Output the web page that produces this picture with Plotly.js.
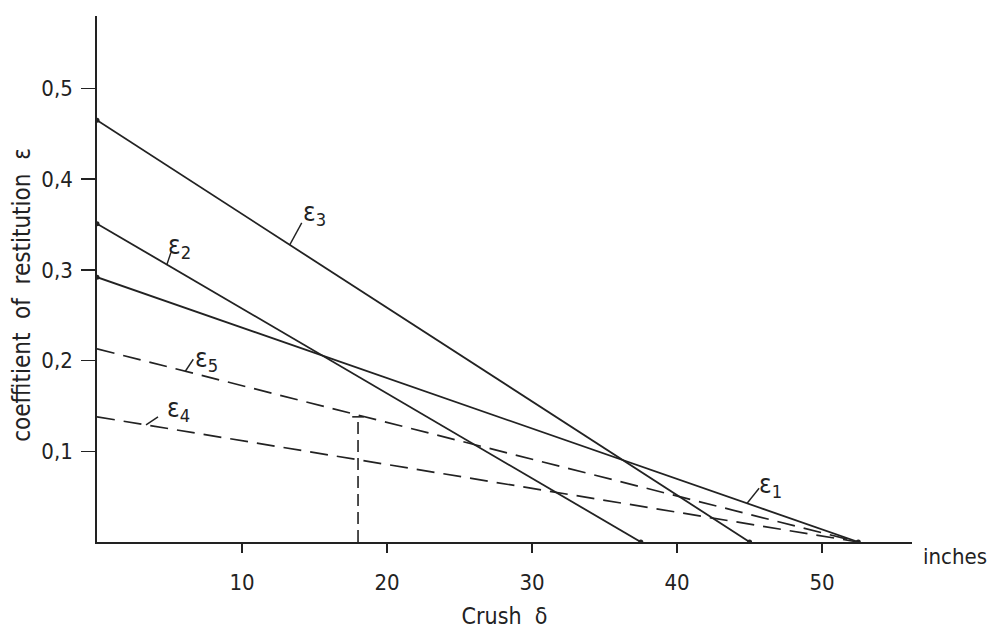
<!DOCTYPE html>
<html><head><meta charset="utf-8">
<script src="https://cdn.plot.ly/plotly-3.0.1.min.js"></script>
<style>html,body{margin:0;padding:0;background:#fff}</style>
</head><body><div id="chart" style="width:995px;height:635px"></div>
<script>
// Data
const e1X = [0, 52.5], e1Y = [0.292, 0];
const e2X = [0, 37.5], e2Y = [0.351, 0];
const e3X = [0, 45.0], e3Y = [0.465, 0];
const e5X = [0, 52.5], e5Y = [0.213, 0];
const e4X = [0, 52.5], e4Y = [0.138, 0];
const markX = [18, 18], markY = [0, 0.138];
const capX = [17.6, 18.4], capY = [0.138, 0.138];
const xTickVals = [10, 20, 30, 40, 50];
const xTickText = ["10", "20", "30", "40", "50"];
const yTickVals = [0.1, 0.2, 0.3, 0.4, 0.5];
const yTickText = ["0,1", "0,2", "0,3", "0,4", "0,5"];
const labelNames = ["ε<sub>1</sub>", "ε<sub>2</sub>", "ε<sub>3</sub>", "ε<sub>5</sub>", "ε<sub>4</sub>"];
const labelAtX = [44.83, 4.82, 13.29, 6.09, 3.38];

const INK = '#222';
const FONT = 'DejaVu Sans Condensed, DejaVu Sans, sans-serif';

function lin(xs, ys, x) { return ys[0] + (ys[1] - ys[0]) * (x - xs[0]) / (xs[1] - xs[0]); }

const solid = {color: INK, width: 1.8};
const dashed = {color: INK, width: 1.7, dash: '18px,9px'};
const mk = {size: 5, color: INK};

const traces = [
  {x: e1X, y: e1Y, mode: 'lines+markers', line: solid, marker: mk, name: 'ε1'},
  {x: e2X, y: e2Y, mode: 'lines+markers', line: solid, marker: mk, name: 'ε2'},
  {x: e3X, y: e3Y, mode: 'lines+markers', line: solid, marker: mk, name: 'ε3'},
  {x: e5X, y: e5Y, mode: 'lines', line: dashed, name: 'ε5'},
  {x: e4X, y: e4Y, mode: 'lines', line: dashed, name: 'ε4'},
  {x: markX, y: markY, mode: 'lines', line: {color: INK, width: 1.6, dash: '12px,6px'}, name: 'mark'},
  {x: capX, y: capY, mode: 'lines', line: {color: INK, width: 1.6}, name: 'cap'}
];

const series = [[e1X, e1Y], [e2X, e2Y], [e3X, e3Y], [e5X, e5Y], [e4X, e4Y]];
// leader tail offsets (pixels, up = positive) and label text offsets (pixels)
const leader = [[12, 15], [4, 12], [12, 22], [8, 12], [12, 8]];
const textShift = [[23, 18], [13, 18], [25, 31], [21, 12], [32, 15]];
const annotations = [];
const shapes = [];
labelNames.forEach((t, i) => {
  const x = labelAtX[i], y = lin(series[i][0], series[i][1], labelAtX[i]);
  shapes.push({type: 'line', xref: 'x', yref: 'y', xsizemode: 'pixel', ysizemode: 'pixel',
    xanchor: x, yanchor: y, x0: 0, y0: 0, x1: leader[i][0], y1: leader[i][1],
    line: {color: INK, width: 1.4}});
  annotations.push({x: x, y: y, text: t, showarrow: false, xanchor: 'center', yanchor: 'middle',
    xshift: textShift[i][0], yshift: textShift[i][1],
    font: {family: FONT, size: 26, color: INK}});
});
annotations.push({x: 56.2, y: 0, xref: 'x', yref: 'y', text: 'inches', showarrow: false,
  xanchor: 'left', yanchor: 'middle', xshift: 9, yshift: -14,
  font: {family: FONT, size: 22, color: INK}});
annotations.push({xref: 'paper', yref: 'paper', x: -0.092, y: 0.47, text: 'coeffitient  of  restitution  ε',
  textangle: -90, showarrow: false, xanchor: 'center', yanchor: 'middle',
  font: {family: FONT, size: 24, color: INK}});

const layout = {
  width: 995, height: 635,
  margin: {l: 97, r: 83, t: 16, b: 93},
  paper_bgcolor: '#fff', plot_bgcolor: '#fff',
  showlegend: false,
  font: {family: FONT, size: 22, color: INK},
  xaxis: {
    range: [0, 56.2], showgrid: false, zeroline: false,
    showline: true, linecolor: INK, linewidth: 1.8,
    ticks: 'outside', ticklen: 9, tickwidth: 1.5, tickcolor: INK,
    tickvals: xTickVals, ticktext: xTickText, ticklabelstandoff: 11,
    tickfont: {family: FONT, size: 22, color: INK},
    title: {text: 'Crush  δ', standoff: 14, font: {family: FONT, size: 23, color: INK}}
  },
  yaxis: {
    range: [0, 0.58], showgrid: false, zeroline: false,
    showline: true, linecolor: INK, linewidth: 1.8,
    ticks: 'outside', ticklen: 14, tickwidth: 1.5, tickcolor: INK,
    tickvals: yTickVals, ticktext: yTickText, ticklabelstandoff: 4,
    tickfont: {family: FONT, size: 22, color: INK}
  },
  shapes: shapes,
  annotations: annotations
};

Plotly.newPlot('chart', traces, layout, {displayModeBar: false, staticPlot: true});
</script>
</body></html>
